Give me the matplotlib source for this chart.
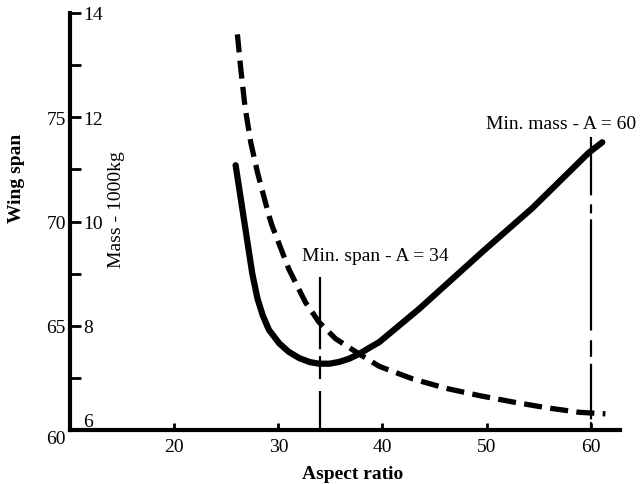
import matplotlib
matplotlib.use("Agg")
import matplotlib.pyplot as plt

plt.rcParams['font.family'] = ['Liberation Serif', 'DejaVu Serif']
plt.rcParams['lines.scale_dashes'] = False

# ---- data ----
aspect_span = [25.9, 26.3, 26.7, 27.1, 27.5, 28.0, 28.5, 29.1, 30.1, 31.0, 32.0,
               33.0, 33.9, 34.9, 35.8, 36.8, 37.8, 38.7, 39.7, 43.5, 49.6, 54.4,
               59.8, 61.1]
wing_span = [72.7, 71.4, 70.1, 68.8, 67.5, 66.3, 65.5, 64.8, 64.15, 63.75, 63.45,
             63.26, 63.18, 63.18, 63.26, 63.42, 63.66, 63.93, 64.22, 65.8, 68.55,
             70.65, 73.3, 73.8]

aspect_mass = [26.07, 26.4, 26.8, 27.35, 28.0, 29.1, 29.4, 31.0, 32.6, 33.9, 35.5,
               37.75, 39.7, 42.9, 46.1, 49.3, 52.45, 55.65, 58.85, 61.4]
mass = [13.59, 12.92, 12.2, 11.52, 10.94, 10.11, 9.92, 9.09, 8.45, 8.07, 7.75,
        7.46, 7.22, 6.98, 6.8, 6.66, 6.54, 6.43, 6.34, 6.31]

min_span_A = 34
min_span_top = 67.33
min_mass_A = 60
min_mass_top = 74.04

x_ticks = [20, 30, 40, 50, 60]
span_ticks = [60, 65, 70, 75]
mass_ticks = [6, 8, 10, 12, 14]
mass_minor = [7, 9, 11, 13]

fig = plt.figure(figsize=(6.44, 4.85), dpi=100)
ax = fig.add_axes([70 / 644, 54 / 485, 550 / 644, 417 / 485])
ax.set_xlim(10, 62.8)
ax.set_ylim(60, 80)
ax2 = ax.twinx()
ax2.set_ylim(6, 14)

for s in ['top', 'right']:
    ax.spines[s].set_visible(False)
for s in ['left', 'bottom']:
    ax.spines[s].set_linewidth(3)
for s in ax2.spines.values():
    s.set_visible(False)

# span axis (labels left of the spine, no tick marks)
ax.set_yticks(span_ticks)
ax.set_yticklabels([str(v) for v in span_ticks])
ax.tick_params(axis='y', length=0, pad=3, labelsize=14)
ax.get_yticklabels()[0].set_verticalalignment('top')

ax.set_xticks(x_ticks)
ax.set_xticklabels([str(v) for v in x_ticks])
ax.tick_params(axis='x', direction='in', length=5, width=2, pad=6, labelsize=14)

# mass axis (ticks inward on the left spine, labels to its right)
ax2.yaxis.set_ticks_position('left')
ax2.yaxis.set_label_position('left')
ax2.set_yticks(mass_ticks)
ax2.set_yticks(mass_minor, minor=True)
ax2.set_yticklabels([str(v) for v in mass_ticks])
ax2.tick_params(axis='y', which='both', direction='in', length=8, width=2,
                left=True, right=False, labelleft=True, labelright=False,
                pad=-9.5, labelsize=14)
for lab in ax2.get_yticklabels():
    lab.set_horizontalalignment('left')
ax2.get_yticklabels()[0].set_verticalalignment('bottom')

# curves
ax.plot(aspect_span, wing_span, color='black', lw=4.5, solid_capstyle='round',
        solid_joinstyle='round', zorder=3)
ax2.plot(aspect_mass, mass, color='black', lw=3.8, linestyle=(0, (13, 6)),
         dash_capstyle='butt', dash_joinstyle='round', zorder=3)

# marker lines
ax.plot([min_span_A, min_span_A], [min_span_top, 60], color='black', lw=1.6,
        linestyle=(0, (52, 5, 16.5, 8.6, 40, 2)))
ax.plot([min_mass_A, min_mass_A], [min_mass_top, 60], color='black', lw=1.6,
        linestyle=(0, (42, 6.5, 6.5, 4.3, 80, 7, 12, 5, 40, 2)))

ax.text(32.3, 68.35, 'Min. span - A = 34', fontsize=14, ha='left', va='center')
ax.text(49.9, 74.71, 'Min. mass - A = 60', fontsize=14, ha='left', va='center')

ax.set_ylabel('Wing span', fontsize=14, fontweight='bold')
ax.yaxis.set_label_coords(-0.082, 0.607)
ax2.set_ylabel('Mass - 1000kg', fontsize=14)
ax2.yaxis.set_label_coords(0.10, 0.532)
ax.set_xlabel('Aspect ratio', fontsize=14, fontweight='bold')
ax.xaxis.set_label_coords(0.513, -0.085)

fig.savefig('out.png', dpi=100)
